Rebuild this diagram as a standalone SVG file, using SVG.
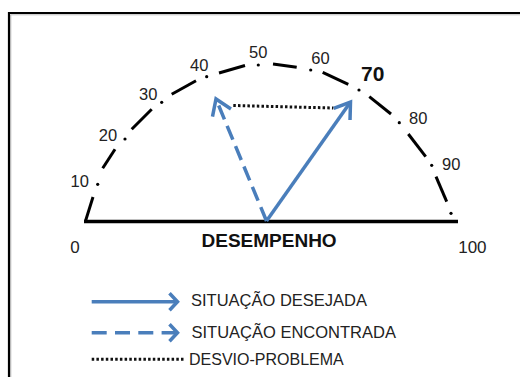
<svg xmlns="http://www.w3.org/2000/svg" width="520" height="377" viewBox="0 0 520 377">
<style>
.num{font-family:"Liberation Sans",Arial,sans-serif;font-size:16.5px;fill:#222}
.big{font-family:"Liberation Sans",Arial,sans-serif;font-size:21px;font-weight:bold;fill:#111}
.ttl{font-family:"Liberation Sans",Arial,sans-serif;font-size:19px;font-weight:bold;fill:#111}
.leg{font-family:"Liberation Sans",Arial,sans-serif;font-size:16.5px;fill:#222}
.dash{stroke:#000;stroke-width:3;fill:none}
.dot{fill:#000}
.blue{stroke:#4a7ebb;stroke-width:3.5;fill:none}
.dotted{stroke:#111;stroke-width:3;fill:none;stroke-dasharray:2.5 2.2}
</style>
<defs>
<marker id="chev" markerUnits="userSpaceOnUse" markerWidth="40" markerHeight="40" viewBox="-20 -20 40 40" refX="0" refY="0" orient="auto" overflow="visible">
<path d="M-15,-10 L0,0 L-15,10" fill="none" stroke="#4a7ebb" stroke-width="3.5" stroke-dasharray="none"/>
</marker>
<marker id="chevS" markerUnits="userSpaceOnUse" markerWidth="30" markerHeight="30" viewBox="-15 -15 30 30" refX="0" refY="0" orient="auto" overflow="visible">
<path d="M-8,-8.5 L0,0 L-8,8.5" fill="none" stroke="#4a7ebb" stroke-width="3.5" stroke-dasharray="none"/>
</marker>
</defs>
<rect width="520" height="377" fill="#fff"/>
<g id="frame">
<path d="M10.8,377 V14.8 H520" fill="none" stroke="#bbb" stroke-width="1"/>
<path d="M9,377 V13 H520" fill="none" stroke="#000" stroke-width="2.2"/>
</g>
<g id="gauge">
<line x1="84" y1="221.5" x2="458" y2="221.5" stroke="#000" stroke-width="3.5"/>
<g id="arc">
<line class="dash" x1="85.5" y1="221" x2="93" y2="197"/>
<line class="dash" x1="102.7" y1="168.3" x2="115" y2="149.3"/>
<line class="dash" x1="131.7" y1="129.3" x2="151.7" y2="109.3"/>
<line class="dash" x1="171.7" y1="94.3" x2="196" y2="80.7"/>
<line class="dash" x1="219" y1="73" x2="245" y2="65.5"/>
<line class="dash" x1="273" y1="64" x2="296.7" y2="67.3"/>
<line class="dash" x1="322.7" y1="72.3" x2="348.3" y2="84.3"/>
<line class="dash" x1="369.3" y1="96.7" x2="391" y2="114"/>
<line class="dash" x1="408.3" y1="134" x2="425.7" y2="156.7"/>
<line class="dash" x1="436" y1="176.7" x2="446.7" y2="201.7"/>
<circle class="dot" cx="97.7" cy="184.3" r="1.6"/>
<circle class="dot" cx="125" cy="139" r="1.6"/>
<circle class="dot" cx="161.7" cy="102.3" r="1.6"/>
<circle class="dot" cx="206.7" cy="76.7" r="1.6"/>
<circle class="dot" cx="258.3" cy="65" r="1.6"/>
<circle class="dot" cx="310.7" cy="70" r="1.6"/>
<circle class="dot" cx="359" cy="90" r="1.6"/>
<circle class="dot" cx="399.3" cy="122.7" r="1.6"/>
<circle class="dot" cx="431.7" cy="165.3" r="1.6"/>
<circle class="dot" cx="451" cy="213.3" r="1.6"/>
</g>
<g id="scale-labels">
<text class="num" x="70.5" y="187">10</text>
<text class="num" x="98.8" y="141">20</text>
<text class="num" x="139" y="99.5">30</text>
<text class="num" x="190" y="71">40</text>
<text class="num" x="249" y="58">50</text>
<text class="num" x="311.3" y="63.5">60</text>
<text class="big" x="361" y="81">70</text>
<text class="num" x="409" y="123.5">80</text>
<text class="num" x="442" y="170">90</text>
<text class="num" x="70.3" y="253" style="font-size:17px">0</text>
<text class="num" x="458.2" y="253" style="font-size:17px">100</text>
<text class="ttl" x="201.5" y="247">DESEMPENHO</text>
</g>
</g>
<g id="connectors">
<line id="desejada" class="blue" x1="266.5" y1="221" x2="350.5" y2="102" marker-end="url(#chev)"/>
<line id="encontrada" class="blue" x1="266.5" y1="221" x2="216" y2="99" stroke-dasharray="15 7" marker-end="url(#chev)"/>
<line id="desvio" class="dotted" x1="233.3" y1="105.5" x2="333.3" y2="108"/>
</g>
<g id="legend">
<g id="leg-desejada">
<line class="blue" x1="91.7" y1="301.7" x2="177.5" y2="301.7" marker-end="url(#chevS)"/>
<text class="leg" x="191" y="306">SITUAÇÃO DESEJADA</text>
</g>
<g id="leg-encontrada">
<line class="blue" x1="91.7" y1="332.7" x2="177.5" y2="332.7" stroke-dasharray="15 8.3" marker-end="url(#chevS)"/>
<text class="leg" x="191.5" y="338.3">SITUAÇÃO ENCONTRADA</text>
</g>
<g id="leg-desvio">
<line class="dotted" x1="91.7" y1="359.3" x2="185" y2="359.3" stroke-dasharray="2.5 3.2"/>
<text class="leg" x="189" y="365" style="font-size:16px">DESVIO-PROBLEMA</text>
</g>
</g>
</svg>
